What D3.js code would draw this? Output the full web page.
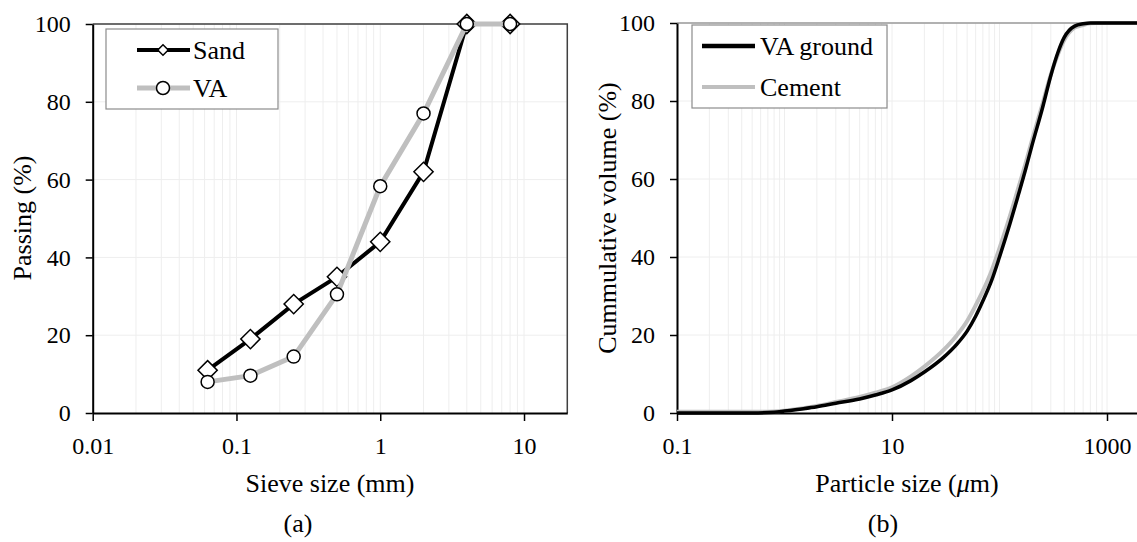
<!DOCTYPE html>
<html>
<head>
<meta charset="utf-8">
<script src="https://cdn.jsdelivr.net/npm/d3@7"></script>
<style>
  body { margin: 0; background: #fff; }
  text { font-family: "Liberation Serif", "Times New Roman", serif; fill: #000; }
</style>
</head>
<body>
<script>
// (a) sieve analysis
var sieveSizes = [0.063, 0.125, 0.25, 0.5, 1, 2, 4, 8]
var sandPassing = [11, 19, 28, 35, 44, 62, 100, 100]
var vaPassing = [8, 9.6, 14.5, 30.5, 58.3, 77, 100, 100]
var ticksA = [0.01, 0.1, 1, 10]

// (b) laser particle size
var vaGroundSize = [0.1, 0.5, 0.8, 1, 1.5, 2, 3, 5, 7, 10, 15, 20, 30, 40, 50, 60, 70, 85, 100, 125, 150, 175, 200, 250, 300, 350, 400, 500, 600, 700, 2000]
var vaGroundVol = [0, 0, 0.2, 0.5, 1.1, 1.6, 2.5, 3.6, 4.6, 5.9, 8.3, 10.5, 14.2, 17.6, 21, 24.8, 28.7, 34.2, 40, 48.5, 56, 62.5, 68.5, 78, 86.5, 92.5, 96.3, 99.2, 99.8, 100, 100]
var cementSize = [0.1, 0.5, 0.8, 1, 1.5, 2, 3, 5, 7, 10, 15, 20, 30, 40, 50, 60, 70, 85, 100, 125, 150, 175, 200, 250, 300, 350, 400, 500, 600, 700, 800, 2000]
var cementVol = [0.3, 0.3, 0.4, 0.6, 1.2, 1.8, 2.8, 4.1, 5.2, 6.6, 9.4, 11.9, 16.1, 19.9, 23.6, 27.6, 31.3, 36.7, 42.3, 50.5, 57.8, 64, 69.8, 79, 86.8, 92, 95.6, 98.8, 99.5, 99.9, 100, 100]
var ticksB = [0.1, 10, 1000]

var yTicks = [0, 20, 40, 60, 80, 100]

var svg = d3.select("body")
  .append("svg")
  .attr("width", 1137)
  .attr("height", 542)

function zip(xs, ys) {
  return xs.map(function(x, i) { return {x: x, y: ys[i]} })
}

function panel(o) {
  var g = svg.append("g")
  var x = o.x, y = o.y

  // grid
  g.selectAll(".vg").data(x.ticks()).enter().append("line")
    .attr("x1", function(d) { return x(d) }).attr("x2", function(d) { return x(d) })
    .attr("y1", y(0)).attr("y2", y(100))
    .attr("stroke", "#eeeeee").attr("stroke-width", 1)
  g.selectAll(".hg").data(yTicks.slice(1)).enter().append("line")
    .attr("x1", x.range()[0]).attr("x2", x.range()[1])
    .attr("y1", function(d) { return y(d) }).attr("y2", function(d) { return y(d) })
    .attr("stroke", "#eeeeee").attr("stroke-width", 1)

  // frame
  g.append("path")
    .attr("d", "M" + x.range()[0] + "," + y(100) + "H" + x.range()[1] + "V" + y(0))
    .attr("fill", "none").attr("stroke", o.frame).attr("stroke-width", 1.5)

  var xAxis = d3.axisBottom(x).tickValues(o.xticks)
    .tickFormat(function(d) { return String(d) })
    .tickSize(8).tickSizeOuter(0).tickPadding(16)
  var yAxis = d3.axisLeft(y).tickValues(yTicks)
    .tickSize(7).tickSizeOuter(0).tickPadding(15)

  var xg = g.append("g").attr("transform", "translate(0," + y(0) + ")").call(xAxis)
  var yg = g.append("g").attr("transform", "translate(" + x.range()[0] + ",0)").call(yAxis)
  ;[xg, yg].forEach(function(a) {
    a.selectAll("path").attr("stroke", "#000").attr("stroke-width", 2)
    a.selectAll("line").attr("stroke", "#000").attr("stroke-width", 1.5)
    a.selectAll("text").style("font-size", "24px").style("font-family", "Liberation Serif")
  })
  return g
}

// ---------- (a)
var xA = d3.scaleLog().domain([0.01, 20]).range([92.7, 567.3])
var yA = d3.scaleLinear().domain([0, 100]).range([413, 24])
var gA = panel({x: xA, y: yA, xticks: ticksA, frame: "#404040"})

var lineA = d3.line().x(function(d) { return xA(d.x) }).y(function(d) { return yA(d.y) })
var sand = zip(sieveSizes, sandPassing)
var va = zip(sieveSizes, vaPassing)
var diamond = d3.symbol().type(d3.symbolSquare).size(185)
var diamondSmall = d3.symbol().type(d3.symbolSquare).size(55)

gA.append("path").datum(sand).attr("d", lineA)
  .attr("fill", "none").attr("stroke", "#000").attr("stroke-width", 4)
gA.selectAll(".sd").data(sand).enter().append("path")
  .attr("d", diamond)
  .attr("transform", function(d) { return "translate(" + xA(d.x) + "," + yA(d.y) + ") rotate(45)" })
  .attr("fill", "#fff").attr("stroke", "#000").attr("stroke-width", 1.5)
gA.append("path").datum(va).attr("d", lineA)
  .attr("fill", "none").attr("stroke", "#bfbfbf").attr("stroke-width", 5)
gA.selectAll(".vc").data(va).enter().append("circle")
  .attr("cx", function(d) { return xA(d.x) }).attr("cy", function(d) { return yA(d.y) })
  .attr("r", 6.5).attr("fill", "#fff").attr("stroke", "#000").attr("stroke-width", 1.5)

// legend (a)
var legA = gA.append("g")
legA.append("rect").attr("x", 106).attr("y", 29).attr("width", 172).attr("height", 80)
  .attr("fill", "#fff").attr("stroke", "#8c8c8c").attr("stroke-width", 1.2)
legA.append("line").attr("x1", 137).attr("x2", 190).attr("y1", 50).attr("y2", 50)
  .attr("stroke", "#000").attr("stroke-width", 4)
legA.append("path").attr("d", diamondSmall).attr("transform", "translate(163,50) rotate(45)")
  .attr("fill", "#fff").attr("stroke", "#000").attr("stroke-width", 1.5)
legA.append("line").attr("x1", 137).attr("x2", 190).attr("y1", 88).attr("y2", 88)
  .attr("stroke", "#bfbfbf").attr("stroke-width", 5)
legA.append("circle").attr("cx", 163).attr("cy", 88).attr("r", 6.5)
  .attr("fill", "#fff").attr("stroke", "#000").attr("stroke-width", 1.5)
legA.append("text").text("Sand").attr("x", 193).attr("y", 50).attr("dy", "0.34em").style("font-size", "26px")
legA.append("text").text("VA").attr("x", 193).attr("y", 88).attr("dy", "0.34em").style("font-size", "26px")

svg.append("text").text("Sieve size (mm)").attr("x", 330).attr("y", 492)
  .attr("text-anchor", "middle").style("font-size", "26px")
svg.append("text").text("Passing (%)").attr("transform", "translate(31,218) rotate(-90)")
  .attr("text-anchor", "middle").style("font-size", "26px")
svg.append("text").text("(a)").attr("x", 298).attr("y", 532)
  .attr("text-anchor", "middle").style("font-size", "26px")

// ---------- (b)
var xB = d3.scaleLog().domain([0.1, 2000]).range([677, 677 + 107.5 * Math.log10(20000)])
var yB = d3.scaleLinear().domain([0, 100]).range([413, 23])
var gB = panel({x: xB, y: yB, xticks: ticksB, frame: "#9a9a9a"})

var lineB = d3.line().curve(d3.curveMonotoneX)
  .x(function(d) { return xB(d.x) }).y(function(d) { return yB(d.y) })
gB.append("path").datum(zip(cementSize, cementVol)).attr("d", lineB)
  .attr("fill", "none").attr("stroke", "#bfbfbf").attr("stroke-width", 4)
gB.append("path").datum(zip(vaGroundSize, vaGroundVol)).attr("d", lineB)
  .attr("fill", "none").attr("stroke", "#000").attr("stroke-width", 3.5)

var legB = gB.append("g")
legB.append("rect").attr("x", 692).attr("y", 25).attr("width", 195).attr("height", 83)
  .attr("fill", "#fff").attr("stroke", "#8c8c8c").attr("stroke-width", 1.2)
legB.append("line").attr("x1", 702).attr("x2", 755).attr("y1", 46).attr("y2", 46)
  .attr("stroke", "#000").attr("stroke-width", 4.5)
legB.append("line").attr("x1", 702).attr("x2", 755).attr("y1", 87).attr("y2", 87)
  .attr("stroke", "#bfbfbf").attr("stroke-width", 4)
legB.append("text").text("VA ground").attr("x", 760).attr("y", 46).attr("dy", "0.34em").style("font-size", "26px")
legB.append("text").text("Cement").attr("x", 760).attr("y", 87).attr("dy", "0.34em").style("font-size", "26px")

var xt = svg.append("text").attr("x", 907).attr("y", 492)
  .attr("text-anchor", "middle").style("font-size", "26px")
xt.append("tspan").text("Particle size (")
xt.append("tspan").text("\u03bc").style("font-style", "italic")
xt.append("tspan").text("m)")
svg.append("text").text("Cummulative volume (%)").attr("transform", "translate(616,218) rotate(-90)")
  .attr("text-anchor", "middle").style("font-size", "26px")
svg.append("text").text("(b)").attr("x", 883).attr("y", 532)
  .attr("text-anchor", "middle").style("font-size", "26px")
</script>
</body>
</html>
